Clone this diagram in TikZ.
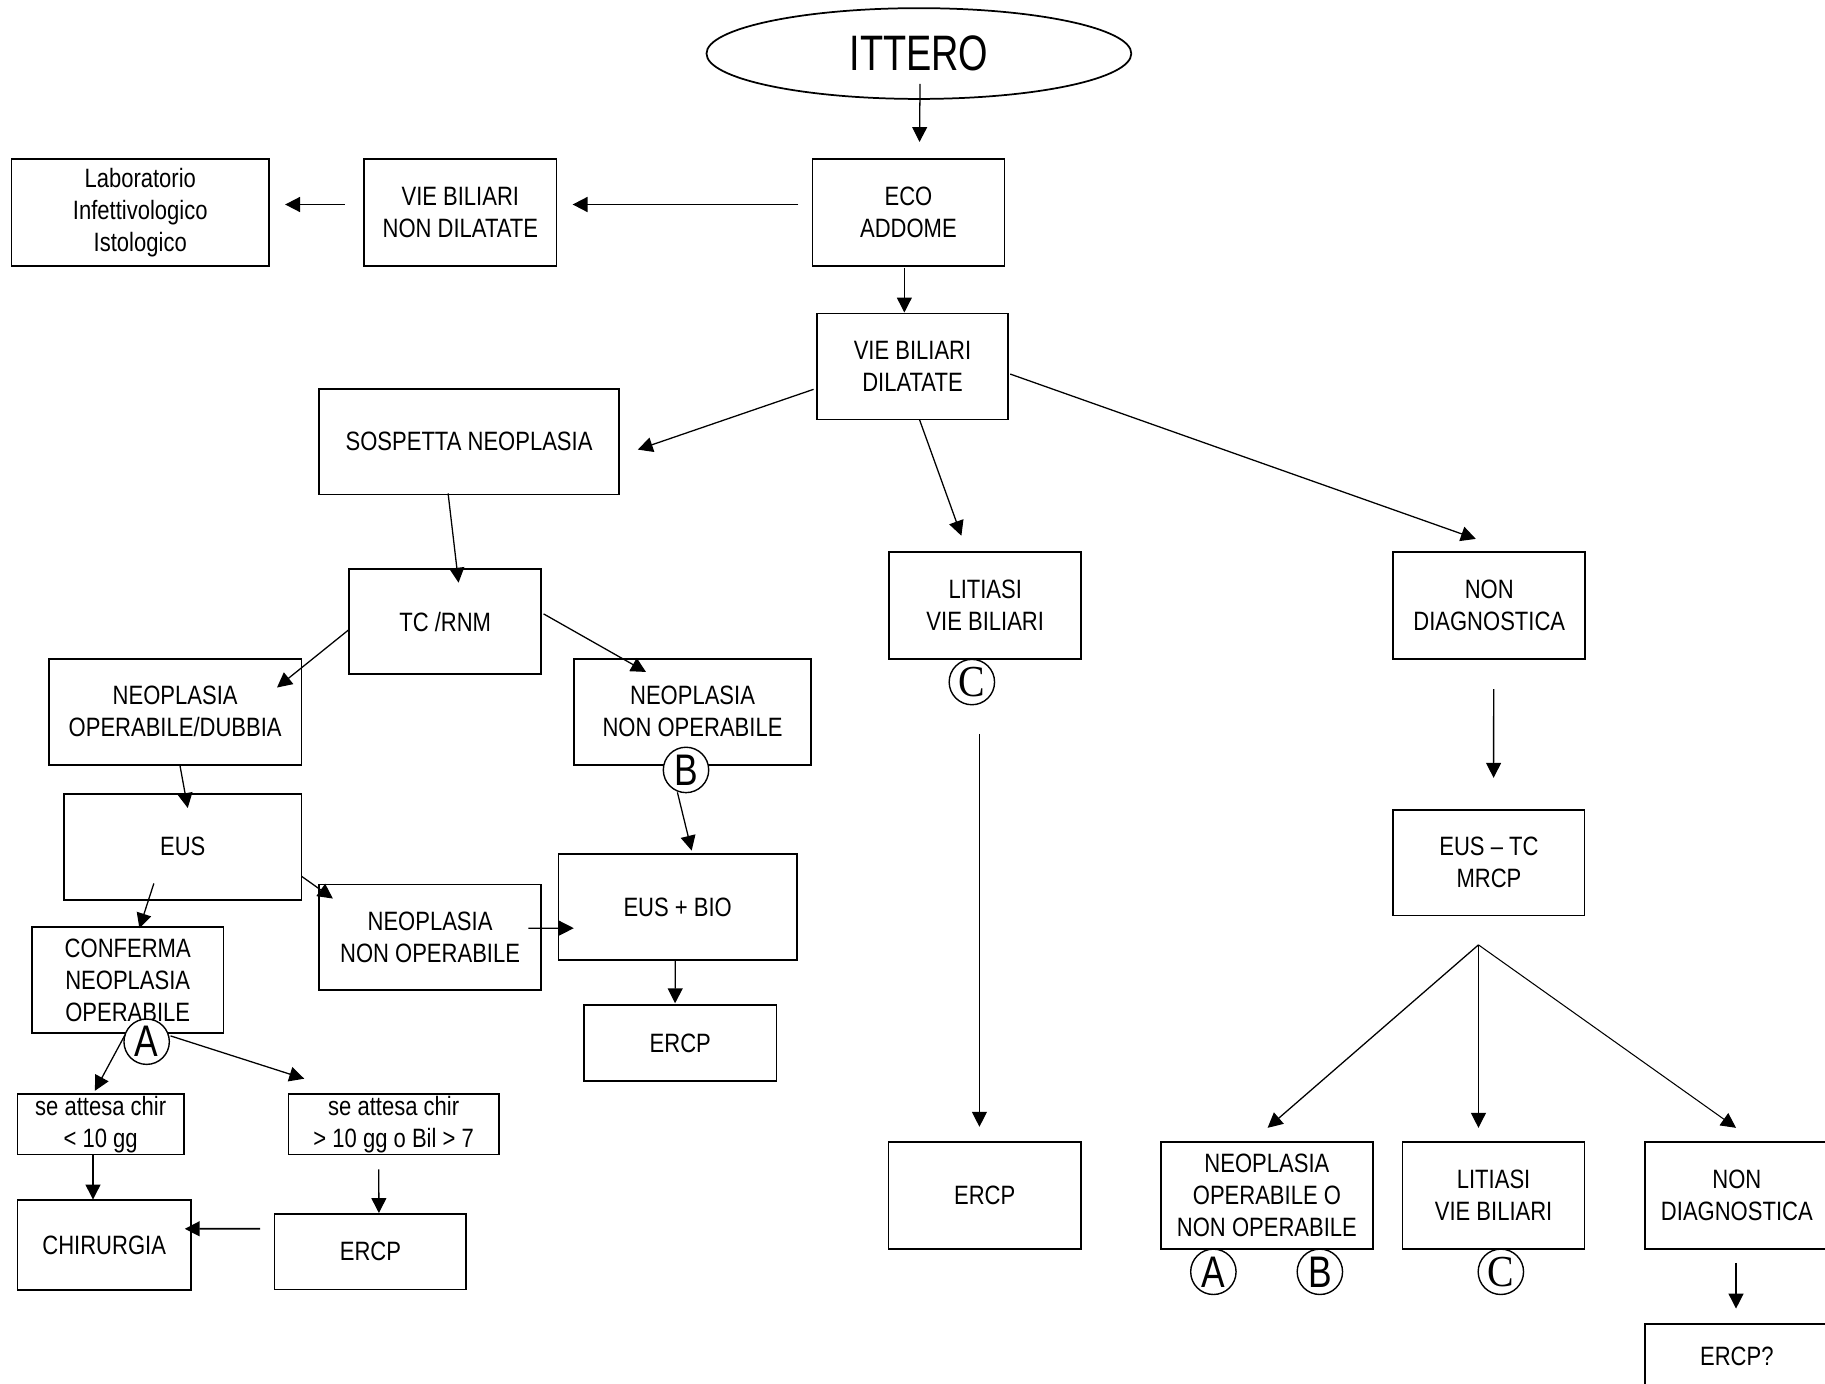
\documentclass[tikz,border=0pt]{standalone}
\usepackage{fontspec}
\setmainfont{Liberation Sans}[FakeStretch=0.83]
\newfontfamily\ittfont{Liberation Sans}[FakeStretch=0.76]
\newfontfamily\circsans{Liberation Sans}[FakeStretch=0.8]
\newfontfamily\circserif{Liberation Serif}[FakeStretch=0.9]
\usetikzlibrary{arrows.meta,calc,shapes.geometric}
\newcommand{\mybox}[6]{\node[boxst, minimum width={(#4-(#2))*0.5pt}, minimum height={(#5-(#3))*0.5pt}] (#1) at ({(#2+#4)/2},{(#3+#5)/2}) {#6};}
\begin{document}
\begin{tikzpicture}[x=0.5pt,y=-0.5pt,
 boxst/.style={draw, line width=0.7pt, inner sep=0pt, outer sep=0pt, align=center, font=\fontsize{11.4}{13.75}\selectfont},
 arr/.style={-{Triangle[length=6.4pt,width=6.4pt]}, line width=0.55pt},
 circst/.style={circle, draw, fill=white, line width=0.6pt, minimum size=19.5pt, inner sep=0pt, outer sep=0pt},
 lett/.style={circst, font=\circsans\fontsize{19}{19}\selectfont},
 lettc/.style={circst, font=\circserif\fontsize{19}{19}\selectfont}]
\useasboundingbox (0,0) rectangle (1568,1189);
\fill[white] (0,0) rectangle (1568,1189);
\clip (0,0) rectangle (1568,1189);

\node[ellipse, draw, line width=0.75pt, minimum width=182.5pt, minimum height=39pt, inner sep=0pt,
  font=\ittfont\fontsize{21.4}{24}\selectfont] (itt) at (789.5,46) {ITTERO};

\mybox{eco}{698}{136.5}{863}{228.5}{ECO\\ADDOME}
\mybox{vnd}{313}{136.5}{478}{228.5}{VIE BILIARI\\NON DILATATE}
\mybox{lab}{10}{136.5}{231}{228.5}{Laboratorio\\Infettivologico\\Istologico}
\mybox{vbd}{702}{269.5}{866}{360.5}{VIE BILIARI\\DILATATE}
\mybox{sosp}{274}{334}{532}{425}{SOSPETTA NEOPLASIA}
\mybox{lit}{764}{474.5}{929}{566}{LITIASI\\VIE BILIARI}
\mybox{nond}{1197}{474.5}{1362}{566}{NON\\DIAGNOSTICA}
\mybox{tc}{300}{489}{465}{579}{TC /RNM}
\mybox{nopd}{42}{566}{259}{657}{NEOPLASIA\\OPERABILE/DUBBIA}
\mybox{nnop}{493}{566}{697}{657}{NEOPLASIA\\NON OPERABILE}
\mybox{eus}{55}{682}{259}{773}{EUS}
\mybox{conf}{27.5}{796.5}{192}{887.5}{CONFERMA\\NEOPLASIA\\OPERABILE}
\mybox{nnopb}{274}{760}{465}{850.5}{NEOPLASIA\\NON OPERABILE}
\mybox{eusbio}{480}{733.5}{684.5}{825}{EUS + BIO}
\mybox{ercpa}{502}{863.5}{667}{928.5}{ERCP}
\mybox{atta}{15}{940}{158}{992}{se attesa chir\\< 10 gg}
\mybox{attb}{248}{940}{428.5}{992}{se attesa chir\\> 10 gg o Bil > 7}
\mybox{chir}{15}{1031}{164}{1108.5}{CHIRURGIA}
\mybox{ercpb}{236}{1043}{400.5}{1108}{ERCP}
\mybox{ercpc}{763.5}{981}{928.5}{1073}{ERCP}
\mybox{eustc}{1197}{696}{1361.5}{786.5}{EUS – TC\\MRCP}
\mybox{nopo}{997.5}{981}{1179.5}{1073}{NEOPLASIA\\OPERABILE O\\NON OPERABILE}
\mybox{litb}{1205}{981}{1361.5}{1073}{LITIASI\\VIE BILIARI}
\mybox{nondb}{1413.5}{981}{1571}{1073}{NON\\DIAGNOSTICA}
\mybox{ercpq}{1413.5}{1137.5}{1571}{1193}{ERCP?}

\node[lettc] (cC1) at (835,586) {C};
\node[lett] (cB1) at (589.4,661.5) {B};
\node[lett] (cA1) at (126,895) {A};
\node[lett] (cA2) at (1042.5,1092.7) {A};
\node[lett] (cB2) at (1134,1092.7) {B};
\node[lettc] (cC2) at (1289.5,1092.7) {C};

\draw[arr] ($(itt.center)+(1,26)$) -- ($(eco.north)+(9.5,-14.5)$);
\draw[arr, line width=0.8pt] ($(eco.west)+(-12,-6.8)$) -- ($(vnd.east)+(14,-6.8)$);
\draw[arr, line width=0.8pt] ($(vnd.west)+(-17,-6.8)$) -- ($(lab.east)+(14,-6.8)$);
\draw[arr] ($(eco.south)+(-3.5,1.5)$) -- ($(vbd.north)+(-7,-1)$);
\draw[arr] ($(vbd.west)+(-3,19.5)$) -- ($(sosp.east)+(16,6.8)$);
\draw[arr] ($(vbd.south)+(6,0)$) -- ($(lit.north)+(-20.5,-14.2)$);
\draw[arr] ($(vbd.east)+(2,6.4)$) -- ($(nond.north)+(-11.5,-11.5)$);
\draw[arr] ($(sosp.south)+(-18,-1)$) -- ($(tc.north)+(11.5,11.6)$);
\draw[arr] ($(tc.west)+(0,6.8)$) -- ($(nopd.north east)+(-21,24.7)$);
\draw[arr] ($(tc.east)+(2,-6.6)$) -- ($(nnop.north west)+(62,11.3)$);
\draw[arr] ($(cB1.south)+(-7.4,-0.3)$) -- ($(eusbio.north)+(12,-2.7)$);
\draw[arr] ($(nopd.south)+(4,0)$) -- ($(eus.north)+(4.3,12.2)$);
\draw[arr] ($(eus.south)+(-24.8,-14)$) -- ($(conf.north)+(10,1)$);
\draw[arr] ($(eus.east)+(0,25.3)$) -- ($(nnopb.north west)+(12,12)$);
\draw[arr] ($(nnopb.east)+(-11,-7.8)$) -- ($(eusbio.west)+(13,18.2)$);
\draw[arr] ($(eusbio.south)+(-2,0)$) -- ($(ercpa.north)+(-4.5,-1.5)$);
\draw[arr] ($(cA1.center)+(-18.5,-6)$) -- ($(atta.north)+(-5,-2.8)$);
\draw[arr] ($(cA1.center)+(20.5,-5)$) -- ($(attb.north west)+(13.4,-13.2)$);
\draw[arr] ($(atta.south)+(-6.6,0.4)$) -- ($(chir.north)+(-9.6,-0.4)$);
\draw[arr] ($(attb.south)+(-12.8,12.7)$) -- ($(ercpb.north)+(7.3,-0.8)$);
\draw[arr, line width=0.8pt] ($(ercpb.west)+(-12.6,-19.8)$) -- ($(chir.east)+(-5.2,-14)$);
\draw[arr] ($(cC1.south)+(6.5,25)$) -- ($(ercpc.north)+(-4.5,-12.9)$);
\draw[arr] ($(nond.south)+(3.8,26)$) -- ($(eustc.north)+(4,-27.7)$);
\coordinate (split) at ($(eustc.south)+(-9,25.3)$);
\draw[arr] (split) -- ($(nopo.north)+(0.6,-12)$);
\draw[arr] (split) -- ($(litb.north)+(-13,-12)$);
\draw[arr, line width=0.45pt] (split) -- ($(nondb.north)+(-0.7,-12)$);
\draw[arr] ($(nondb.south)+(-0.7,12)$) -- ($(ercpq.north)+(-0.7,-13.2)$);
\end{tikzpicture}
\end{document}
